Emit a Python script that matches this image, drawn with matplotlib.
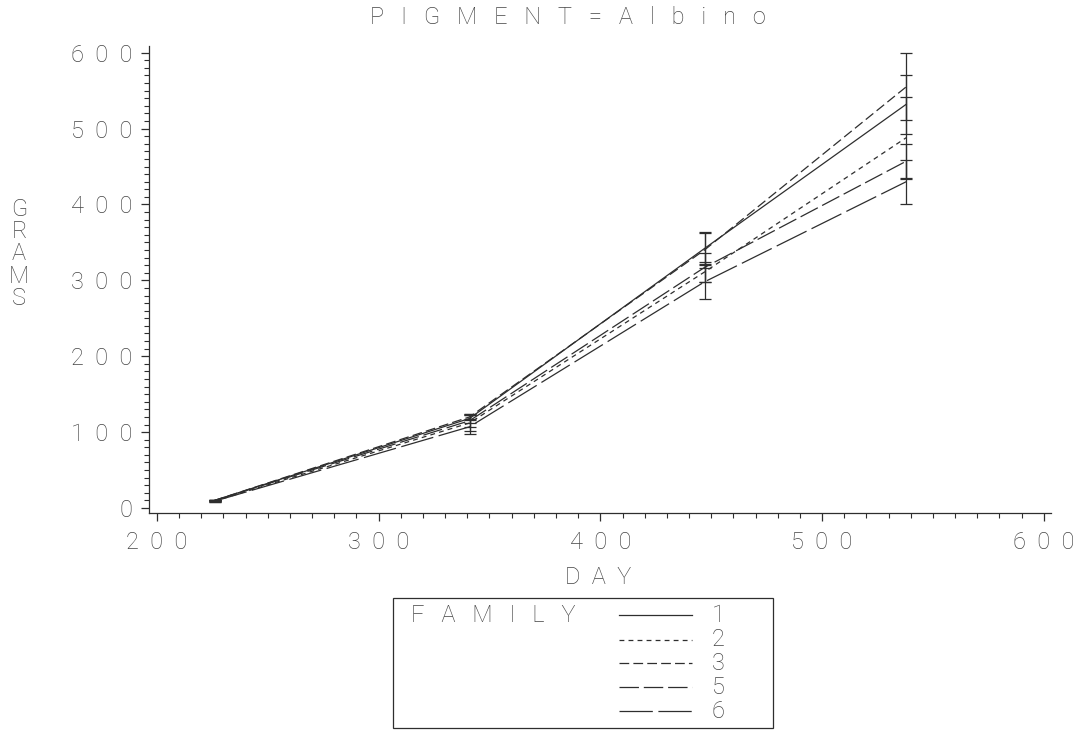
import numpy as np
import matplotlib
matplotlib.use("Agg")
import matplotlib.pyplot as plt
from matplotlib.ticker import MultipleLocator, FuncFormatter
from matplotlib.lines import Line2D
from matplotlib.patches import Rectangle

# данные
days = [226, 341, 447, 538]
families = ["1", "2", "3", "5", "6"]
means = {
    "1": [10, 118, 342, 532],
    "2": [9, 112, 311, 488],
    "3": [10, 120, 340, 555],
    "5": [10, 115, 317, 457],
    "6": [9, 107, 298, 430],
}
sds = {
    "1": [1, 6, 20, 39],
    "2": [1, 10, 13, 54],
    "3": [1, 4, 24, 44],
    "5": [1, 8, 19, 22],
    "6": [1, 10, 22, 29],
}
title = "PIGMENT=Albino"
x_label = "DAY"
y_label = "GRAMS"
legend_title = "FAMILY"

# стили линий (в пунктах)
dash_styles = {
    "1": None,
    "2": (3.5, 3),
    "3": (7, 3),
    "5": (14, 3.5),
    "6": (24, 4),
}

plt.rcParams['font.family'] = ['Roboto', 'DejaVu Sans']
plt.rcParams['font.weight'] = 'light'
plt.rcParams['lines.scale_dashes'] = False

txt_color = '#444444'
ln_color = '#2e2e2e'
fs = 17


def spaced(s, gap="  "):
    return gap.join(s)


fig = plt.figure(figsize=(10.87, 7.30), dpi=100)
W, H = 1087, 730
ax = fig.add_axes([149 / W, 1 - 513 / H, 902 / W, (513 - 46) / H])

for fam in families:
    ls = '-' if dash_styles[fam] is None else (0, dash_styles[fam])
    ax.plot(days, means[fam], color=ln_color, lw=0.9, linestyle=ls)
    ax.errorbar(days, means[fam], yerr=sds[fam], fmt='none', ecolor=ln_color,
                elinewidth=0.9, capsize=4, capthick=0.9)

ax.set_xlim(196.4, 603.3)
ax.set_ylim(-6.6, 608.8)
ax.xaxis.set_major_locator(MultipleLocator(100))
ax.xaxis.set_minor_locator(MultipleLocator(10))
ax.yaxis.set_major_locator(MultipleLocator(100))
ax.yaxis.set_minor_locator(MultipleLocator(10))
fmt = FuncFormatter(lambda v, p: spaced(str(int(round(v)))))
ax.xaxis.set_major_formatter(fmt)
ax.yaxis.set_major_formatter(fmt)

for s in ['top', 'right']:
    ax.spines[s].set_visible(False)
for s in ['left', 'bottom']:
    ax.spines[s].set_color(ln_color)
    ax.spines[s].set_linewidth(0.9)

ax.tick_params(which='major', length=6, width=0.9, color=ln_color,
               labelcolor=txt_color, labelsize=fs)
ax.tick_params(which='minor', length=3.5, width=0.8, color=ln_color)
ax.tick_params(axis='x', which='major', pad=7)
ax.tick_params(axis='y', which='major', pad=6)

# заголовок и подписи осей
fig.text(568 / W, 1 - 18 / H, spaced(title, "   "), ha='center', va='center',
         fontsize=fs, color=txt_color)
fig.text(598 / W, 1 - 577 / H, spaced(x_label), ha='center', va='center',
         fontsize=fs, color=txt_color)
fig.text(19 / W, 1 - 254 / H, "\n".join(y_label), ha='center', va='center',
         fontsize=fs, color=txt_color, linespacing=0.95)

# легенда вручную, как в SAS
box = Rectangle((393 / W, 1 - 728 / H), (773 - 393) / W, (728 - 598) / H,
                transform=fig.transFigure, fill=False, edgecolor=ln_color, lw=0.9)
fig.patches.append(box)
fig.text(411 / W, 1 - 615 / H, spaced(legend_title, "   "), ha='left', va='center',
         fontsize=fs, color=txt_color)
row_y = [615, 640, 663, 687, 711]
for fam, yy in zip(families, row_y):
    ls = '-' if dash_styles[fam] is None else (0, dash_styles[fam])
    fig.add_artist(Line2D([619 / W, 692 / W], [1 - yy / H, 1 - yy / H],
                          transform=fig.transFigure, color=ln_color, lw=0.9,
                          linestyle=ls))
    fig.text(718 / W, 1 - yy / H, fam, ha='center', va='center',
             fontsize=fs, color=txt_color)

fig.savefig("out.png", dpi=100)
